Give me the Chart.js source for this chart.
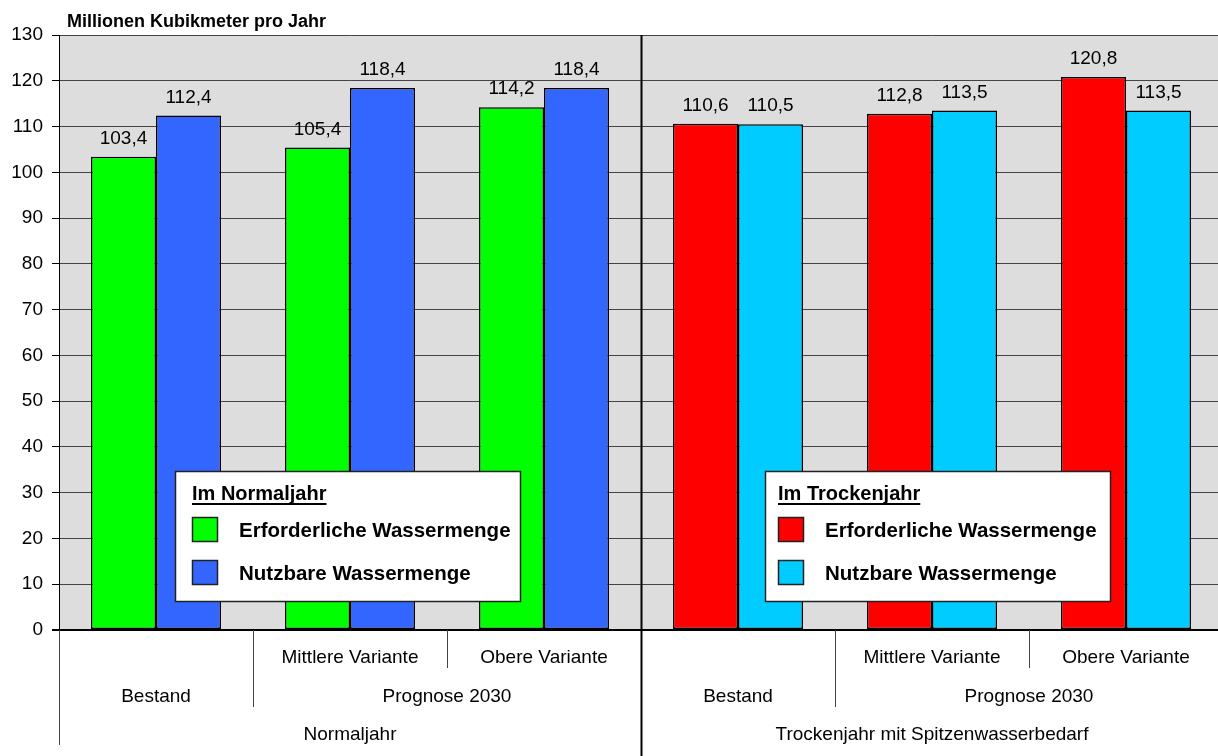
<!DOCTYPE html>
<html lang="de">
<head>
<meta charset="utf-8">
<title>Wasserbilanz</title>
<script src="https://cdn.jsdelivr.net/npm/chart.js@4/dist/chart.umd.min.js"></script>
<style>
	html, body { margin: 0; padding: 0; background: #fff; overflow: hidden; }
	#wrap { width: 1224px; height: 756px; }
</style>
</head>
<body>
<div id="wrap"><canvas id="cntx_wasser" width="1224" height="756"></canvas></div>
<script>
// Werte in Millionen m³ pro Jahr
const kategorien = ["N-Bestand", "N-Mittlere", "N-Obere", "T-Bestand", "T-Mittlere", "T-Obere"];
const erforderlich = [103.4, 105.4, 114.2, 110.6, 112.8, 120.8];
const nutzbar = [112.4, 118.4, 118.4, 110.5, 113.5, 113.5];

// Achsenbeschriftung in drei Ebenen
const varianten = ["", "Mittlere Variante", "Obere Variante", "", "Mittlere Variante", "Obere Variante"];
const zeitraum = ["Bestand", "Prognose 2030", "Bestand", "Prognose 2030"];
const zeitraumVon = [0, 1, 3, 4];
const zeitraumBis = [0, 2, 3, 5];
const jahr = ["Normaljahr", "Trockenjahr mit Spitzenwasserbedarf"];
const jahrVon = [0, 3];
const jahrBis = [2, 5];

const yTicks = [0, 10, 20, 30, 40, 50, 60, 70, 80, 90, 100, 110, 120, 130];

const legendeTitel = ["Im Normaljahr", "Im Trockenjahr"];
const legendeEintraege = ["Erforderliche Wassermenge", "Nutzbare Wassermenge"];

const FONT = '"Liberation Sans", Arial, sans-serif';
const farben = [
	{ erforderlich: "#00ff00", nutzbar: "#3366ff" },
	{ erforderlich: "#ff0000", nutzbar: "#00ccff" },
];

jahrIndex = (i) => (i <= jahrBis[0] ? 0 : 1);
fmt = (v) => v.toFixed(1).replace(".", ",");

// Pixel der Grenze vor Kategorie i
grenze = (chart, i) => {
	const x = chart.scales.x;
	if (i <= 0) return chart.chartArea.left;
	if (i >= kategorien.length) return chart.chartArea.right;
	return (x.getPixelForValue(i - 1) + x.getPixelForValue(i)) / 2;
};

const diagrammPlugin = {
	id: "diagrammPlugin",
	beforeDraw(chart) {
		const { ctx, chartArea: a } = chart;
		ctx.save();
		ctx.fillStyle = "#dddddd";
		ctx.fillRect(a.left, a.top, a.right - a.left, a.bottom - a.top);
		ctx.restore();
	},
	beforeDatasetsDraw(chart) {
		// Trennlinie zwischen Normal- und Trockenjahr
		const { ctx, chartArea: a } = chart;
		const xt = Math.round(grenze(chart, jahrVon[1])) + 0.5;
		ctx.save();
		ctx.strokeStyle = "#000";
		ctx.lineWidth = 2;
		ctx.beginPath();
		ctx.moveTo(xt, a.top);
		ctx.lineTo(xt, chart.height);
		ctx.stroke();
		ctx.restore();
	},
	afterDatasetsDraw(chart) {
		// Werte über den Säulen
		const { ctx } = chart;
		ctx.save();
		ctx.font = "19px " + FONT;
		ctx.fillStyle = "#000";
		ctx.textAlign = "center";
		ctx.textBaseline = "alphabetic";
		chart.data.datasets.forEach((ds, di) => {
			const meta = chart.getDatasetMeta(di);
			meta.data.forEach((bar, i) => {
				ctx.fillText(fmt(ds.data[i]), bar.x, bar.y - 13);
			});
		});
		ctx.restore();
	},
	afterDraw(chart) {
		const { ctx, chartArea: a } = chart;
		const x = chart.scales.x;
		const zeilen = [663, 702, 740];
		const zeilenEnde = [668, 707, 745];

		ctx.save();
		// Trennstriche unter der Achse
		ctx.strokeStyle = "#444";
		ctx.lineWidth = 1;
		for (let i = 0; i < kategorien.length; i++) {
			let ende;
			if (i === 0) ende = zeilenEnde[2];
			else if (jahrVon.includes(i)) continue;
			else if (zeitraumVon.includes(i)) ende = zeilenEnde[1];
			else ende = zeilenEnde[0];
			const xs = Math.round(grenze(chart, i)) + 0.5;
			ctx.beginPath();
			ctx.moveTo(xs, a.bottom);
			ctx.lineTo(xs, ende);
			ctx.stroke();
		}

		ctx.fillStyle = "#000";
		ctx.textAlign = "center";
		ctx.font = "19px " + FONT;
		varianten.forEach((t, i) => {
			if (t) ctx.fillText(t, x.getPixelForValue(i), zeilen[0]);
		});
		zeitraum.forEach((t, k) => {
			const mitte = (grenze(chart, zeitraumVon[k]) + grenze(chart, zeitraumBis[k] + 1)) / 2;
			ctx.fillText(t, mitte, zeilen[1]);
		});
		jahr.forEach((t, k) => {
			const mitte = (grenze(chart, jahrVon[k]) + grenze(chart, jahrBis[k] + 1)) / 2;
			ctx.fillText(t, mitte, zeilen[2]);
		});

		// Einheit
		ctx.textAlign = "left";
		ctx.font = "bold 18px " + FONT;
		ctx.fillText("Millionen Kubikmeter pro Jahr", 67, 27);

		// Legenden
		const boxen = [
			{ x: 175, y: 471, w: 345, h: 130, sx: 192, tx: 239 },
			{ x: 765, y: 471, w: 345, h: 130, sx: 778, tx: 825 },
		];
		boxen.forEach((b, k) => {
			ctx.fillStyle = "#fff";
			ctx.fillRect(b.x, b.y, b.w, b.h);
			ctx.strokeStyle = "#222";
			ctx.lineWidth = 1.5;
			ctx.strokeRect(b.x + 0.5, b.y + 0.5, b.w, b.h);

			ctx.fillStyle = "#000";
			ctx.font = "bold 20px " + FONT;
			ctx.fillText(legendeTitel[k], b.sx, b.y + 29);
			const tw = ctx.measureText(legendeTitel[k]).width;
			ctx.fillRect(b.sx, b.y + 32, tw, 2);

			const f = [farben[k].erforderlich, farben[k].nutzbar];
			legendeEintraege.forEach((t, j) => {
				const sy = b.y + 46 + j * 43;
				ctx.fillStyle = f[j];
				ctx.fillRect(b.sx, sy, 25, 24);
				ctx.strokeStyle = "#222";
				ctx.lineWidth = 1.5;
				ctx.strokeRect(b.sx + 0.5, sy + 0.5, 25, 24);
				ctx.fillStyle = "#000";
				ctx.font = "bold 20.5px " + FONT;
				ctx.fillText(t, b.tx, sy + 20);
			});
		});
		ctx.restore();
	},
};

const cntx = document.querySelector("#cntx_wasser");
const myChart = new Chart(cntx, {
	type: "bar",
	data: {
		labels: kategorien,
		datasets: [
			{
				label: legendeEintraege[0],
				data: erforderlich,
				backgroundColor: (c) => farben[jahrIndex(c.dataIndex)].erforderlich,
				borderColor: "#000",
				borderWidth: 1.5,
				borderSkipped: false,
				barPercentage: 1.0,
				categoryPercentage: 0.67,
			},
			{
				label: legendeEintraege[1],
				data: nutzbar,
				backgroundColor: (c) => farben[jahrIndex(c.dataIndex)].nutzbar,
				borderColor: "#000",
				borderWidth: 1.5,
				borderSkipped: false,
				barPercentage: 1.0,
				categoryPercentage: 0.67,
			},
		],
	},
	options: {
		responsive: false,
		animation: false,
		devicePixelRatio: 1,
		layout: { padding: { top: 35, bottom: 126, left: 0, right: 1 } },
		plugins: {
			legend: { display: false },
			tooltip: { enabled: false },
		},
		scales: {
			x: { display: false },
			y: {
				min: 0,
				max: 130,
				afterBuildTicks: (s) => {
					s.ticks = yTicks.map((v) => ({ value: v }));
				},
				afterFit: (s) => {
					s.width = 59;
				},
				ticks: {
					color: "#000",
					font: { family: FONT, size: 19 },
					padding: 9,
				},
				grid: {
					color: (c) => (c.tick && c.tick.value === 0 ? "#000" : "#444"),
					lineWidth: (c) => (c.tick && c.tick.value === 0 ? 2 : 1),
					tickColor: "#000",
					tickLength: 7,
				},
				border: { color: "#000", width: 1 },
			},
		},
	},
	plugins: [diagrammPlugin],
});
</script>
</body>
</html>
